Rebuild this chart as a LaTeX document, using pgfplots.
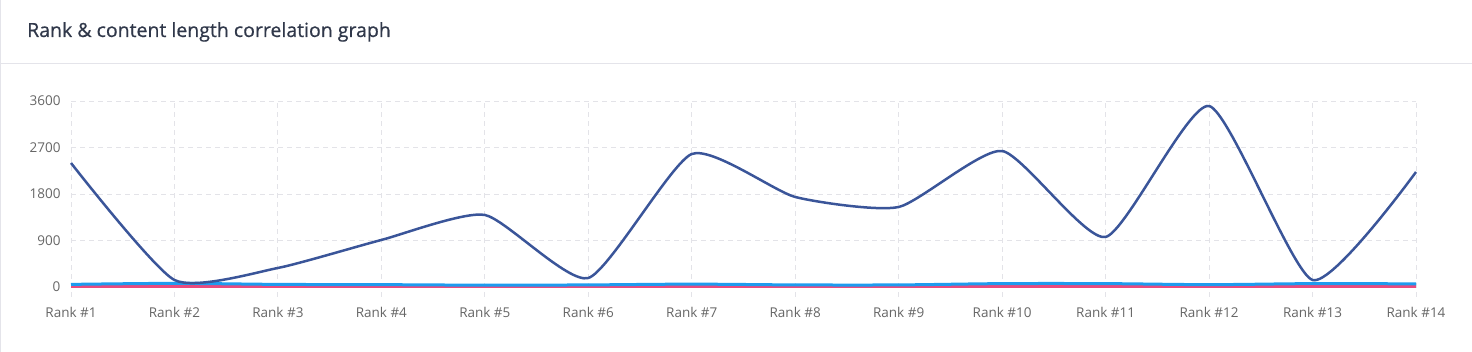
\documentclass[border=0pt]{standalone}
\usepackage{fontspec}
\setmainfont{Open Sans}
\usepackage{pgfplots}
\pgfplotsset{compat=1.18}
\definecolor{darkline}{HTML}{3A5599}
\definecolor{blueline}{HTML}{1E9BEF}
\definecolor{pinkline}{HTML}{E94B7E}
\definecolor{gridc}{HTML}{E3E3E8}
\definecolor{tickc}{HTML}{666666}
\definecolor{titlec}{HTML}{30384A}
\definecolor{borderc}{HTML}{E4E4EA}
\begin{document}
\begin{tikzpicture}
\path[use as bounding box] (0pt,0pt) rectangle (1472pt,352pt);
\draw[borderc,line width=1.2pt] (0.6pt,0pt) -- (0.6pt,352pt);
\draw[borderc,line width=1pt] (0pt,288pt) -- (1472pt,288pt);
\node[anchor=base west,inner sep=0pt,text=titlec,font=\fontsize{19.5}{22}\selectfont\addfontfeature{FakeBold=0.6}] at (27pt,315pt) {Rank \& content length correlation graph};
\begin{axis}[
  at={(71pt,55pt)}, anchor=south west,
  scale only axis, width=1345pt, height=196pt,
  xmin=0, xmax=13, ymin=-194, ymax=3600,
  axis line style={draw=none},
  major tick length=0pt,
  /pgf/number format/assume math mode=true,
  xtick={0,...,13},
  xticklabels={Rank \#1,Rank \#2,Rank \#3,Rank \#4,Rank \#5,Rank \#6,Rank \#7,Rank \#8,Rank \#9,Rank \#10,Rank \#11,Rank \#12,Rank \#13,Rank \#14},
  ytick={0,900,1800,2700,3600},
  yticklabels={0,900,1800,2700,3600},
  tick label style={font=\fontsize{13.5}{15}\selectfont, text=tickc},
  xticklabel style={yshift=-7pt},
  yticklabel style={xshift=-7pt},
  grid=major,
  major grid style={gridc, dash pattern=on 5pt off 4pt, line width=0.9pt},
  clip=false,
]
\addplot[pinkline, line width=3pt, smooth] coordinates {
(0,5)(1,5)(2,5)(3,5)(4,5)(5,5)(6,5)(7,5)(8,5)(9,5)(10,5)(11,5)(12,5)(13,5)};
\addplot[blueline, line width=3pt, smooth, tension=0.5] coordinates {
(0,50)(1,70)(2,50)(3,45)(4,35)(5,40)(6,55)(7,40)(8,40)(9,65)(10,65)(11,45)(12,65)(13,60)};
\addplot[darkline, line width=2.5pt, smooth, tension=0.35] coordinates {
(0,2400)(1,135)(2,368)(3,910)(4,1394)(5,174)(6,2574)(7,1742)(8,1548)(9,2632)(10,968)(11,3503)(12,135)(13,2226)};
\end{axis}
\end{tikzpicture}
\end{document}
